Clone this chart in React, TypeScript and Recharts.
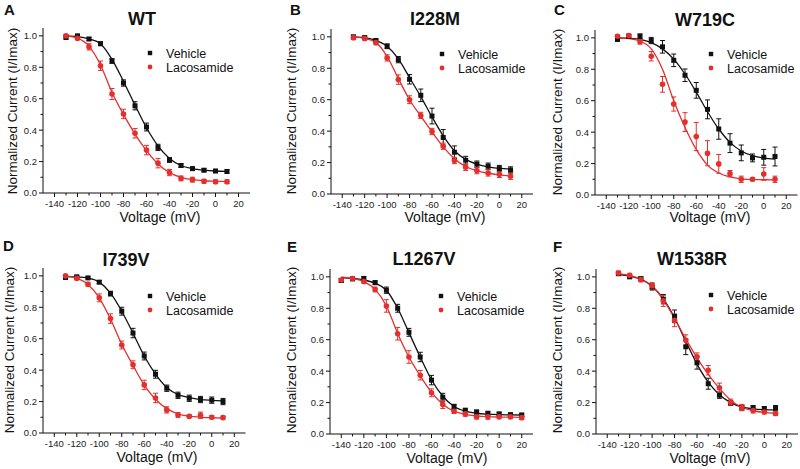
import React from 'react';
import { ComposedChart, Scatter, Line, XAxis, YAxis, ErrorBar } from 'recharts';

const RED = '#e3302f';
const BLACK = '#111111';
const FONT = '"Liberation Sans", Arial, sans-serif';

// voltages (mV)
const MV = [-130, -120, -110, -100, -90, -80, -70, -60, -50, -40, -30, -20, -10, 0, 10];
const MV_E = [-140, -130, -120, -110, -100, -90, -80, -70, -60, -50, -40, -30, -20, -10, 0, 10, 20];

// A - WT
const A_VEH = [0.99, 1.0, 0.98, 0.95, 0.84, 0.7, 0.555, 0.42, 0.29, 0.21, 0.175, 0.155, 0.145, 0.14, 0.137];
const A_VEH_ERR = [0.01, 0.008, 0.01, 0.012, 0.015, 0.02, 0.026, 0.025, 0.02, 0.015, 0.012, 0.01, 0.01, 0.01, 0.01];
const A_VEH_FIT = [1.0, 0.995, 0.98, 0.95, 0.85, 0.71, 0.56, 0.415, 0.3, 0.22, 0.175, 0.155, 0.145, 0.14, 0.138];
const A_LAC = [1.0, 0.985, 0.93, 0.81, 0.63, 0.503, 0.38, 0.273, 0.19, 0.13, 0.093, 0.085, 0.075, 0.072, 0.072];
const A_LAC_ERR = [0.008, 0.01, 0.02, 0.03, 0.035, 0.03, 0.03, 0.03, 0.03, 0.02, 0.015, 0.015, 0.012, 0.012, 0.012];
const A_LAC_FIT = [1.0, 0.985, 0.935, 0.815, 0.64, 0.5, 0.375, 0.27, 0.185, 0.13, 0.1, 0.085, 0.078, 0.075, 0.073];

// B - I228M
const B_VEH = [1.0, 0.995, 0.977, 0.94, 0.855, 0.73, 0.628, 0.496, 0.36, 0.266, 0.215, 0.19, 0.177, 0.162, 0.153];
const B_VEH_ERR = [0.01, 0.01, 0.01, 0.015, 0.02, 0.03, 0.04, 0.05, 0.05, 0.04, 0.025, 0.02, 0.02, 0.02, 0.02];
const B_VEH_FIT = [1.0, 0.995, 0.978, 0.94, 0.86, 0.74, 0.62, 0.49, 0.37, 0.275, 0.22, 0.19, 0.172, 0.163, 0.158];
const B_LAC = [0.995, 0.99, 0.964, 0.866, 0.728, 0.6, 0.5, 0.398, 0.304, 0.213, 0.17, 0.149, 0.134, 0.125, 0.113];
const B_LAC_ERR = [0.012, 0.01, 0.015, 0.02, 0.03, 0.025, 0.02, 0.02, 0.02, 0.02, 0.02, 0.02, 0.02, 0.02, 0.02];
const B_LAC_FIT = [1.0, 0.99, 0.965, 0.875, 0.735, 0.6, 0.495, 0.395, 0.3, 0.225, 0.175, 0.147, 0.132, 0.122, 0.115];

// C - W719C
const C_VEH = [0.99, 1.01, 1.01, 0.983, 0.943, 0.857, 0.762, 0.666, 0.545, 0.42, 0.33, 0.268, 0.236, 0.24, 0.245];
const C_VEH_ERR = [0.01, 0.01, 0.015, 0.02, 0.04, 0.04, 0.04, 0.05, 0.06, 0.065, 0.06, 0.05, 0.025, 0.05, 0.06];
const C_VEH_FIT = [1.0, 0.997, 0.99, 0.97, 0.93, 0.865, 0.77, 0.655, 0.53, 0.42, 0.335, 0.28, 0.25, 0.235, 0.228];
const C_LAC = [1.01, 1.015, 0.975, 0.883, 0.704, 0.579, 0.464, 0.372, 0.266, 0.198, 0.136, 0.1, 0.1, 0.134, 0.1];
const C_LAC_ERR = [0.01, 0.01, 0.015, 0.03, 0.05, 0.045, 0.06, 0.09, 0.08, 0.06, 0.02, 0.02, 0.01, 0.04, 0.02];
const C_LAC_FIT = [1.0, 0.995, 0.98, 0.93, 0.8, 0.6, 0.43, 0.29, 0.19, 0.14, 0.115, 0.103, 0.098, 0.097, 0.096];

// D - I739V
const D_VEH = [0.99, 0.994, 0.987, 0.96, 0.887, 0.775, 0.636, 0.49, 0.374, 0.285, 0.24, 0.221, 0.213, 0.209, 0.2];
const D_VEH_ERR = [0.01, 0.008, 0.008, 0.01, 0.015, 0.025, 0.03, 0.025, 0.025, 0.02, 0.02, 0.02, 0.02, 0.02, 0.02];
const D_VEH_FIT = [0.995, 0.993, 0.985, 0.96, 0.89, 0.775, 0.635, 0.49, 0.375, 0.29, 0.245, 0.225, 0.213, 0.208, 0.205];
const D_LAC = [1.0, 0.985, 0.947, 0.86, 0.728, 0.56, 0.434, 0.306, 0.223, 0.147, 0.115, 0.106, 0.113, 0.1, 0.098];
const D_LAC_ERR = [0.008, 0.01, 0.012, 0.025, 0.03, 0.025, 0.025, 0.03, 0.03, 0.02, 0.015, 0.01, 0.02, 0.01, 0.01];
const D_LAC_FIT = [1.0, 0.985, 0.945, 0.86, 0.725, 0.565, 0.43, 0.305, 0.215, 0.155, 0.122, 0.107, 0.1, 0.097, 0.095];

// E - L1267V
const E_VEH = [0.977, 0.987, 0.99, 0.963, 0.915, 0.8, 0.647, 0.49, 0.343, 0.234, 0.174, 0.151, 0.14, 0.132, 0.128, 0.123, 0.121];
const E_VEH_ERR = [0.012, 0.01, 0.01, 0.012, 0.02, 0.025, 0.025, 0.03, 0.03, 0.025, 0.015, 0.012, 0.012, 0.01, 0.01, 0.01, 0.01];
const E_VEH_FIT = [0.995, 0.99, 0.98, 0.96, 0.915, 0.8, 0.645, 0.49, 0.345, 0.24, 0.175, 0.145, 0.132, 0.126, 0.123, 0.122, 0.121];
const E_LAC = [0.98, 0.99, 0.97, 0.92, 0.815, 0.638, 0.49, 0.374, 0.262, 0.187, 0.145, 0.128, 0.11, 0.109, 0.109, 0.109, 0.104];
const E_LAC_ERR = [0.01, 0.01, 0.01, 0.015, 0.04, 0.04, 0.04, 0.03, 0.025, 0.025, 0.015, 0.015, 0.015, 0.015, 0.012, 0.012, 0.012];
const E_LAC_FIT = [1.0, 0.99, 0.97, 0.92, 0.815, 0.64, 0.49, 0.37, 0.265, 0.19, 0.145, 0.125, 0.115, 0.11, 0.108, 0.107, 0.106];

// F - W1538R
const F_VEH = [1.02, 1.0, 0.988, 0.936, 0.858, 0.749, 0.555, 0.453, 0.32, 0.247, 0.198, 0.168, 0.166, 0.162, 0.166];
const F_VEH_ERR = [0.01, 0.01, 0.012, 0.02, 0.03, 0.04, 0.05, 0.04, 0.035, 0.02, 0.015, 0.015, 0.015, 0.012, 0.015];
const F_VEH_FIT = [1.015, 1.005, 0.985, 0.94, 0.86, 0.74, 0.59, 0.445, 0.33, 0.25, 0.2, 0.172, 0.16, 0.155, 0.153];
const F_LAC = [1.025, 1.01, 0.983, 0.943, 0.847, 0.723, 0.596, 0.491, 0.406, 0.294, 0.202, 0.168, 0.149, 0.14, 0.13];
const F_LAC_ERR = [0.012, 0.012, 0.015, 0.02, 0.035, 0.04, 0.035, 0.025, 0.03, 0.03, 0.02, 0.02, 0.015, 0.012, 0.012];
const F_LAC_FIT = [1.02, 1.008, 0.985, 0.94, 0.855, 0.735, 0.605, 0.485, 0.38, 0.29, 0.215, 0.17, 0.148, 0.137, 0.132];

// major ticks get labels, minor ones only a short tick
const X_MAJOR = [-140, -120, -100, -80, -60, -40, -20, 0, 20];
const X_TICKS = [-140, -130, -120, -110, -100, -90, -80, -70, -60, -50, -40, -30, -20, -10, 0, 10, 20];
const Y_MAJOR = [0, 0.2, 0.4, 0.6, 0.8, 1.0];
const Y_TICKS = [0, 0.1, 0.2, 0.3, 0.4, 0.5, 0.6, 0.7, 0.8, 0.9, 1.0];

const PANELS = [
  { letter: 'A', title: 'WT', mv: MV, veh: A_VEH, vehErr: A_VEH_ERR, vehFit: A_VEH_FIT, lac: A_LAC, lacErr: A_LAC_ERR, lacFit: A_LAC_FIT,
    left: 43, top: 28, w: 207, h: 165, letterX: 4, letterY: 15, titleX: 142, titleY: 25, ylabX: 12.5, ylabY: 111, xlabX: 160, xlabY: 222, legX: 150, legY: 53 },
  { letter: 'B', title: 'I228M', mv: MV, veh: B_VEH, vehErr: B_VEH_ERR, vehFit: B_VEH_FIT, lac: B_LAC, lacErr: B_LAC_ERR, lacFit: B_LAC_FIT,
    left: 331, top: 29, w: 202, h: 165, letterX: 290, letterY: 15, titleX: 435, titleY: 25, ylabX: 291, ylabY: 111, xlabX: 445, xlabY: 222, legX: 442, legY: 54 },
  { letter: 'C', title: 'W719C', mv: MV, veh: C_VEH, vehErr: C_VEH_ERR, vehFit: C_VEH_FIT, lac: C_LAC, lacErr: C_LAC_ERR, lacFit: C_LAC_FIT,
    left: 595, top: 29.5, w: 202.5, h: 165, letterX: 554, letterY: 15, titleX: 705, titleY: 26, ylabX: 557, ylabY: 112, xlabX: 710, xlabY: 222, legX: 711, legY: 54 },
  { letter: 'D', title: 'I739V', mv: MV, veh: D_VEH, vehErr: D_VEH_ERR, vehFit: D_VEH_FIT, lac: D_LAC, lacErr: D_LAC_ERR, lacFit: D_LAC_FIT,
    left: 43, top: 268, w: 202.5, h: 165, letterX: 3, letterY: 251, titleX: 126, titleY: 266, ylabX: 9.5, ylabY: 350, xlabX: 157, xlabY: 461.5, legX: 150, legY: 296 },
  { letter: 'E', title: 'L1267V', mv: MV_E, veh: E_VEH, vehErr: E_VEH_ERR, vehFit: E_VEH_FIT, lac: E_LAC, lacErr: E_LAC_ERR, lacFit: E_LAC_FIT,
    left: 330, top: 268.5, w: 203, h: 165, letterX: 287, letterY: 252, titleX: 424, titleY: 265, ylabX: 291, ylabY: 350, xlabX: 447, xlabY: 463, legX: 441, legY: 296 },
  { letter: 'F', title: 'W1538R', mv: MV, veh: F_VEH, vehErr: F_VEH_ERR, vehFit: F_VEH_FIT, lac: F_LAC, lacErr: F_LAC_ERR, lacFit: F_LAC_FIT,
    left: 596, top: 268.5, w: 202, h: 165, letterX: 553, letterY: 252, titleX: 692, titleY: 265, ylabX: 557, ylabY: 350, xlabX: 710, xlabY: 462.5, legX: 711, legY: 295 },
];

const square = (props: any) => (
  <rect x={props.cx - 2.5} y={props.cy - 2.5} width={5} height={5} fill={BLACK} />
);
const dot = (props: any) => <circle cx={props.cx} cy={props.cy} r={2.8} fill={RED} />;

const XTick = (props: any) => {
  const { x, y, payload } = props;
  const major = X_MAJOR.includes(payload.value);
  return (
    <g>
      <line x1={x} x2={x} y1={y} y2={y + (major ? 4 : 2.5)} stroke={BLACK} strokeWidth={1} />
      {major && (
        <text x={x} y={y + 13.5} textAnchor="middle" fontSize={9.5} fill="#222" fontFamily={FONT}>
          {payload.value}
        </text>
      )}
    </g>
  );
};

const YTick = (props: any) => {
  const { x, y, payload } = props;
  const major = Y_MAJOR.some((m) => Math.abs(m - payload.value) < 1e-6);
  return (
    <g>
      <line x1={x} x2={x - (major ? 4 : 2.5)} y1={y} y2={y} stroke={BLACK} strokeWidth={1} />
      {major && (
        <text x={x - 6} y={y + 3.4} textAnchor="end" fontSize={9.5} fill="#222" fontFamily={FONT}>
          {payload.value.toFixed(1)}
        </text>
      )}
    </g>
  );
};

function Panel({ p }: { p: (typeof PANELS)[number] }) {
  const rows = p.mv.map((v, i) => ({
    v,
    veh: p.veh[i],
    vehErr: p.vehErr[i],
    vehFit: p.vehFit[i],
    lac: p.lac[i],
    lacErr: p.lacErr[i],
    lacFit: p.lacFit[i],
  }));
  const YW = 40, XH = 22, MT = 10, MR = 8;
  return (
    <div style={{ position: 'absolute', left: p.left - YW, top: p.top - MT }}>
      <ComposedChart
        width={p.w + YW + MR}
        height={p.h + MT + XH}
        data={rows}
        margin={{ top: MT, left: 0, right: MR, bottom: 0 }}
      >
        <XAxis
          dataKey="v" type="number" domain={[-150, 30]} allowDataOverflow
          ticks={X_TICKS} interval={0} height={XH} tickSize={0} tickMargin={0}
          tickLine={false} axisLine={{ stroke: BLACK, strokeWidth: 1 }} tick={<XTick />}
        />
        <YAxis
          type="number" domain={[0, 1.05]} allowDataOverflow ticks={Y_TICKS} interval={0}
          width={YW} tickSize={0} tickMargin={0} tickLine={false}
          axisLine={{ stroke: BLACK, strokeWidth: 1 }} tick={<YTick />}
        />
        <Line dataKey="vehFit" type="monotone" stroke={BLACK} strokeWidth={1.3} dot={false} activeDot={false} isAnimationActive={false} />
        <Line dataKey="lacFit" type="monotone" stroke={RED} strokeWidth={1.3} dot={false} activeDot={false} isAnimationActive={false} />
        <Scatter dataKey="veh" shape={square} isAnimationActive={false}>
          <ErrorBar dataKey="vehErr" direction="y" width={2.5} stroke={BLACK} strokeWidth={1} />
        </Scatter>
        <Scatter dataKey="lac" shape={dot} isAnimationActive={false}>
          <ErrorBar dataKey="lacErr" direction="y" width={2.5} stroke={RED} strokeWidth={1} />
        </Scatter>
      </ComposedChart>
    </div>
  );
}

export default function App() {
  return (
    <div style={{ position: 'absolute', left: 0, top: 0, width: 800, height: 469, background: '#fff', overflow: 'hidden' }}>
      {PANELS.map((p) => (
        <Panel key={p.letter} p={p} />
      ))}
      <svg width={800} height={469} style={{ position: 'absolute', left: 0, top: 0, pointerEvents: 'none' }} fontFamily={FONT}>
        {PANELS.map((p) => (
          <g key={p.letter} fill="#111">
            <text x={p.letterX} y={p.letterY} fontSize={15} fontWeight="bold">{p.letter}</text>
            <text x={p.titleX} y={p.titleY} fontSize={18} fontWeight="bold" textAnchor="middle">{p.title}</text>
            <text
              transform={`translate(${p.ylabX},${p.ylabY}) rotate(-90)`}
              fontSize={13.5} textAnchor="middle" dominantBaseline="central"
            >
              Normalized Current (I/Imax)
            </text>
            <text x={p.xlabX} y={p.xlabY} fontSize={14} textAnchor="middle">Voltage (mV)</text>
            <rect x={p.legX - 2.2} y={p.legY - 2.2} width={4.4} height={4.4} fill={BLACK} />
            <text x={p.legX + 16} y={p.legY + 4.5} fontSize={12.5}>Vehicle</text>
            <circle cx={p.legX} cy={p.legY + 14} r={2.4} fill={RED} />
            <text x={p.legX + 16} y={p.legY + 18.5} fontSize={12.5}>Lacosamide</text>
          </g>
        ))}
      </svg>
    </div>
  );
}
